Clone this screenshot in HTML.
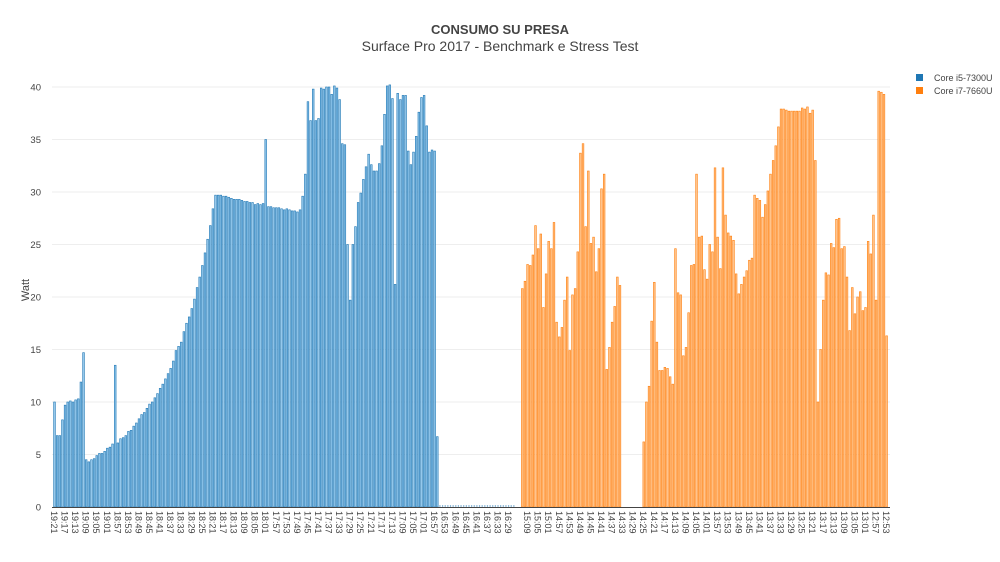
<!DOCTYPE html>
<html><head><meta charset="utf-8"><style>
body{margin:0;background:#fff;}
svg{display:block;font-family:"Liberation Sans",sans-serif;}
</style></head><body>
<svg id="s" width="1000" height="562" viewBox="0 0 1000 562" xmlns="http://www.w3.org/2000/svg">
<text x="500" y="34" text-anchor="middle" font-size="13" font-weight="bold" fill="#444">CONSUMO SU PRESA</text>
<text x="500" y="51" text-anchor="middle" font-size="14" fill="#444">Surface Pro 2017 - Benchmark e Stress Test</text>
<text transform="translate(29,290) rotate(-90)" text-anchor="middle" font-size="11" fill="#444">Watt</text>
<rect x="916" y="74" width="7" height="7" fill="#1f77b4"/>
<text x="934" y="81" font-size="9" fill="#444">Core i5-7300U</text>
<rect x="916" y="87" width="7" height="7" fill="#ff7f0e"/>
<text x="934" y="94" font-size="9" fill="#444">Core i7-7660U</text>
<g id="g"></g>
</svg>
<script>
var g=document.getElementById('g'),h='';
var y0=507,k=10.5;
for(var v=5;v<=40;v+=5){var y=y0-v*k;h+='<line x1="52" x2="890" y1="'+y+'" y2="'+y+'" stroke="#eee" stroke-width="1"/>';}
for(var v=0;v<=40;v+=5){var y=y0-v*k;h+='<text x="41" y="'+(y+3.5)+'" text-anchor="end" font-size="9.5" fill="#444">'+v+'</text>';}
var B=[10,6.8,6.8,8.3,9.7,10,10.1,10,10.2,10.3,11.9,14.7,4.5,4.3,4.5,4.6,4.9,5.1,5.1,5.3,5.6,5.7,6.0,13.5,6.1,6.5,6.6,6.8,7.2,7.3,7.7,8.0,8.4,8.8,9.0,9.4,9.8,10.0,10.4,10.8,11.3,11.7,12.2,12.7,13.2,13.9,14.9,15.3,15.7,16.7,17.5,18.1,18.9,19.8,20.9,21.9,23.0,24.2,25.5,26.8,28.4,29.7,29.7,29.7,29.6,29.6,29.5,29.4,29.3,29.3,29.3,
29.2,29.1,29.1,29.0,29.0,28.8,28.9,28.8,28.9,35.0,28.6,28.6,28.5,28.5,28.5,28.4,28.3,28.4,28.3,28.2,28.2,28.1,28.3,29.6,31.7,38.6,36.8,39.8,36.8,37.0,39.9,39.8,40,40,39.3,40.1,39.9,38.8,34.6,34.5,25,19.7,25,26.7,29,29.9,31.2,32.4,33.6,32.6,32.0,32.0,32.7,34.4,37.4,40.1,40.2,38.9,21.2,39.4,38.8,39.2,39.2,33.9,32.6,33.8,35.3,37.6,39.0,39.2,36.3,33.8,34.0,33.9,6.7];
var nb=B.length;
var O=[20.8,21.5,23.1,23.0,24.0,26.8,24.6,26.0,19.0,22.2,25.3,24.6,27.1,17.6,16.2,17.1,19.7,21.9,14.9,20.2,20.8,24.3,33.7,34.6,26.7,32.0,25.1,25.7,22.4,24.6,30.3,31.7,13.1,15.2,17.6,19.1,21.9,21.1,
0,0,0,0,0,0,0,0,
6.2,10.0,11.5,17.7,21.4,15.7,13.0,13.0,13.3,13.2,12.4,11.7,24.6,20.4,20.2,14.4,15.2,18.5,23.0,23.1,31.7,25.7,25.8,
22.6,21.7,25.0,24.3,32.3,25.7,22.7,32.3,27.8,26.1,25.8,25.4,22.2,20.3,21.2,21.9,22.5,23.5,23.7,29.7,29.4,29.2,27.6,28.8,30.1,31.7,33.0,34.4,36.2,37.9,37.9,37.8,37.7,37.7,37.7,37.7,37.7,38.0,37.9,38.1,37.5,37.8,33.0,10.0,15.0,19.7,22.3,22.1,25.1,24.7,27.4,27.5,24.6,24.8,21.9,16.8,20.9,18.4,20.0,20.5,18.7,19.0,25.3,24.1,27.8,19.7,39.6,39.5,39.3,16.3];
var step=2.64,w=1.7;
function bar(x,v,f,s){if(v<=0)return;var hh=v*k;h+='<rect x="'+(x-w/2).toFixed(2)+'" y="'+(y0-hh).toFixed(2)+'" width="'+w+'" height="'+hh.toFixed(2)+'" fill="'+f+'" stroke="'+s+'" stroke-width="0.6"/>';}
for(var i=0;i<nb;i++)bar(54.5+i*step,B[i],'#94c8ec','#1f77b4');
for(var i=nb;i<=174;i++){var x=54.5+i*step;h+='<line x1="'+(x-0.6).toFixed(2)+'" x2="'+(x+0.6).toFixed(2)+'" y1="506" y2="506" stroke="#1f77b4" stroke-width="1"/>';}
for(var i=0;i<O.length;i++)bar(522.3+i*step,O[i],'#ffc48c','#ff7f0e');
h+='<line x1="52" x2="890" y1="507.5" y2="507.5" stroke="#444" stroke-width="1"/>';
function lab(x,t){h+='<text transform="translate('+(x-3.5).toFixed(2)+',511) rotate(90)" font-size="9" fill="#444">'+t+'</text>';}
function fmt(m){var hh=Math.floor(m/60),mm=m%60;return hh+':'+(mm<10?'0':'')+mm;}
var m=19*60+21;
for(var i=0;i<=172;i+=4)lab(54.5+i*step,fmt(m-i));
m=15*60+11;
for(var i=2;i<=138;i+=4)lab(522.3+i*step,fmt(m-i));
g.innerHTML=h;
</script>
</body></html>
